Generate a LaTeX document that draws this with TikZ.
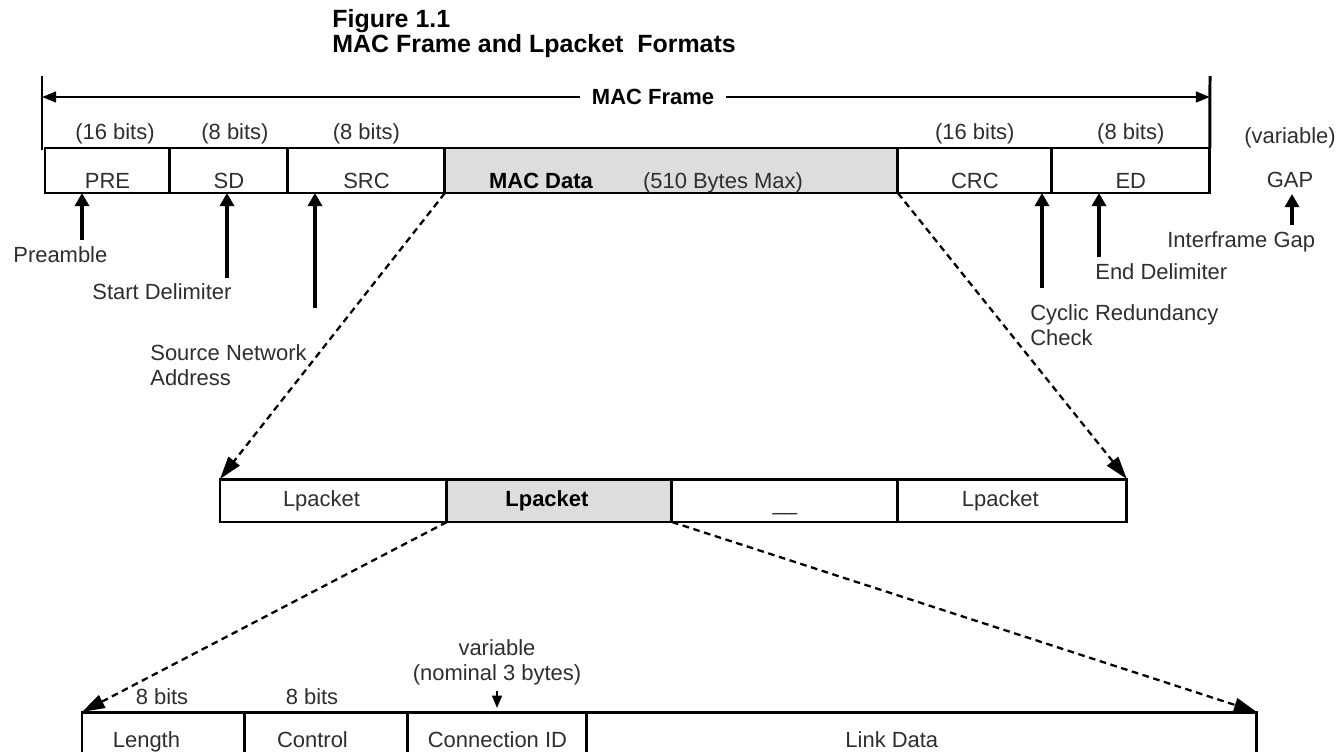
\documentclass[tikz,border=0pt]{standalone}
\usepackage{fontspec}
\setmainfont{Liberation Sans}
\usepackage{xcolor}
\usetikzlibrary{positioning, arrows.meta}
\definecolor{fieldgray}{HTML}{DDDDDD}
\definecolor{ink}{HTML}{2E2E2E}
\newcommand{\lblfont}{\fontsize{12.5}{14.2}\selectfont}
\newcommand{\headfont}{\fontsize{14.2}{16}\selectfont\bfseries}
\newcommand{\padr}[1]{\rule{#1}{0pt}}

\begin{document}
\begin{tikzpicture}[x=0.02cm, y=-0.02cm,
  fieldtext/.style={inner sep=0pt, outer sep=0pt, text height=0.73cm, text depth=0pt, font=\lblfont, text=ink},
  field/.style={fieldtext, draw, line width=1.7pt, minimum height=0.9cm},
  lpk/.style={draw, line width=1.7pt, inner sep=0pt, outer sep=0pt, minimum height=0.86cm, font=\lblfont, text=ink},
  linkfield/.style={draw, line width=1.7pt, inner sep=0pt, outer sep=0pt, minimum height=1.4cm, text height=0pt, text depth=0pt, font=\lblfont, text=ink},
  bits/.style={font=\lblfont, text=ink},
  note/.style={font=\lblfont, text=ink, inner sep=0pt, anchor=west, align=left},
  bar/.style={line width=1.7pt},
  dimline/.style={line width=1.4pt, -{Triangle[length=8pt,width=6pt]}},
  pointer/.style={line width=2pt, -{Triangle[length=7.5pt,width=8pt]}},
  thinpointer/.style={line width=1.2pt, -{Triangle[length=7pt,width=5.5pt]}},
  zoomline/.style={line width=1.3pt, dash pattern=on 3.8pt off 2.6pt, -{Triangle[length=13pt,width=8pt]}}
]
\useasboundingbox (0,0) rectangle (1337,751);
\clip (0,0) rectangle (1337,751);
% Title
\node[font=\headfont, inner sep=0pt, anchor=base west] (title1) at (332,27) {Figure 1.1};
\node[font=\headfont, inner sep=0pt, anchor=base west] (title2) at (332,52) {MAC Frame and Lpacket\ \ Formats};
% MAC frame fields
\node[field, anchor=north west, minimum width=2.5cm] (pre) at (45,148) {PRE};
\node[field, minimum width=2.36cm, right=0pt of pre] (sd) {SD};
\node[field, minimum width=3.14cm, right=0pt of sd] (src) {SRC};
\node[field, fill=fieldgray, minimum width=9.06cm, right=0pt of src] (macdata) {};
\node[field, minimum width=3.08cm, right=0pt of macdata] (crc) {CRC};
\node[field, minimum width=3.16cm, right=0pt of crc] (ed) {ED};
\node[fieldtext, font=\lblfont\bfseries, text=black] (macdatalbl) at (541,170.5) {MAC Data};
\node[fieldtext] (macmax) at (723,170.5) {(510 Bytes Max)};
% Field sizes
\node[bits, above=-0.05cm of pre, xshift=0.15cm] (prebits) {(16 bits)};
\node[bits, above=-0.05cm of sd, xshift=0.12cm] (sdbits) {(8 bits)};
\node[bits, above=-0.05cm of src] (srcbits) {(8 bits)};
\node[bits, above=-0.05cm of crc] (crcbits) {(16 bits)};
\node[bits, above=-0.05cm of ed] (edbits) {(8 bits)};
\node[bits] (gapvar) at (1290,138) {(variable)};
\node[bits] (gap) at (1290,180) {GAP};
% MAC Frame dimension line
\coordinate (barL) at (42,76);
\coordinate (barR) at (1210,76);
\coordinate (dimL) at (42,97);
\coordinate (dimR) at (1210,97);
\draw[bar] (barL) -- (42,150);
\draw[bar] (barR) -- (ed.north east);
\node[font=\lblfont\bfseries, inner xsep=0.24cm] (framelbl) at (653,97) {MAC Frame};
\draw[dimline] (framelbl) -- (dimL);
\draw[dimline] (framelbl) -- (dimR);
% Field names
\node[note] (preamble) at (13,255) {Preamble};
\node[note] (startdel) at (92,292) {Start Delimiter};
\node[note] (srcaddr) at (150,365) {Source Network\\Address};
\node[note] (crccheck) at (1030,325) {Cyclic Redundancy\\Check};
\node[note] (enddel) at (1095,272) {End Delimiter};
\node[note] (ifgap) at (1167,242) {Interframe Gap};
\coordinate (preTail) at (82,240);
\coordinate (sdTail) at (227,278);
\coordinate (srcTail) at (315,308);
\coordinate (crcTail) at (1042,288);
\coordinate (edTail) at (1099,257);
\coordinate (gapTail) at (1292,225);
\draw[pointer] (preTail) -- (preTail |- pre.south);
\draw[pointer] (sdTail) -- (sdTail |- sd.south);
\draw[pointer] (srcTail) -- (srcTail |- src.south);
\draw[pointer] (crcTail) -- (crcTail |- crc.south);
\draw[pointer] (edTail) -- (edTail |- ed.south);
\draw[pointer] (gapTail) -- (gapTail |- gap.south);
% Lpacket row
\node[lpk, anchor=north west, minimum width=4.54cm] (lpk1) at (220,479) {Lpacket\padr{0.48cm}};
\node[lpk, fill=fieldgray, font=\lblfont\bfseries, text=black, minimum width=4.5cm, right=0pt of lpk1] (lpk2) {Lpacket\padr{0.5cm}};
\node[lpk, text height=0.4cm, text depth=0pt, minimum width=4.52cm, right=0pt of lpk2] (lpk3) {\_\_};
\node[lpk, minimum width=4.58cm, right=0pt of lpk3] (lpk4) {Lpacket\padr{0.48cm}};
% Lpacket fields
\node[linkfield, anchor=north west, minimum width=3.26cm] (len) at (82,712) {Length\padr{0.68cm}};
\node[linkfield, minimum width=3.26cm, right=0pt of len] (ctrl) {Control\padr{0.56cm}};
\node[linkfield, minimum width=3.58cm, right=0pt of ctrl] (connid) {Connection ID};
\node[linkfield, minimum width=13.4cm, right=0pt of connid] (linkdata) {Link Data\padr{1.2cm}};
\node[bits] (lenbits) at (162,697) {8 bits};
\node[bits] (ctrlbits) at (312,697) {8 bits};
\node[bits, align=center] (varlbl) at (497,662) {variable\\(nominal 3 bytes)};
\coordinate (varTip) at (497,708);
\draw[thinpointer] (varlbl) -- (varTip);
% Expansion lines
\foreach \from/\to in {macdata.south west/lpk1.north west, macdata.south east/lpk4.north east,
                       lpk2.south west/len.north west, lpk2.south east/linkdata.north east}
  \draw[zoomline] (\from) -- (\to);
\end{tikzpicture}
\end{document}
